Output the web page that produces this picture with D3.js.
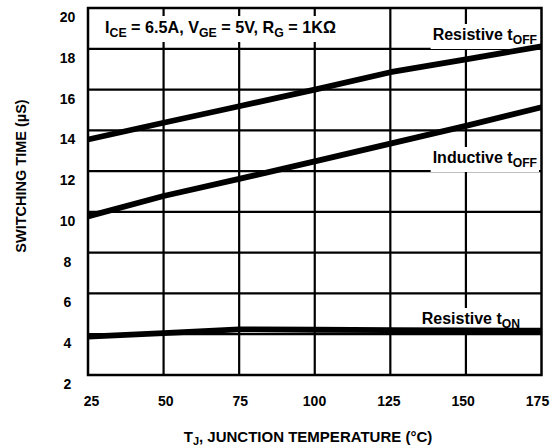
<!DOCTYPE html>
<html>
<head>
<meta charset="utf-8">
<script src="https://cdn.jsdelivr.net/npm/d3@7"></script>
<style>
  html, body { margin: 0; padding: 0; background: #fff; }
  svg text { font-family: "Liberation Sans", Arial, sans-serif; font-weight: bold; fill: #000; }
</style>
</head>
<body>
<svg id="chart" width="552" height="447"></svg>
<script>
// ---- data ----
const temperatures = [25, 50, 75, 100, 125, 150, 175];
const resistiveToff = [13.55, 14.37, 15.18, 16.0, 16.85, 17.48, 18.12];
const inductiveToff = [9.78, 10.78, 11.62, 12.48, 13.35, 14.22, 15.13];
const resistiveTon = [3.88, 4.05, 4.24, 4.22, 4.2, 4.19, 4.17];
const xTicks = [25, 50, 75, 100, 125, 150, 175];
const yTicks = [2, 4, 6, 8, 10, 12, 14, 16, 18, 20];
const xTitle = "JUNCTION TEMPERATURE (°C)";
const yTitle = "SWITCHING TIME (µS)";

const svg = d3.select("#chart");
const x = d3.scaleLinear().domain([25, 175]).range([88, 541.5]);
const xLab = d3.scaleLinear().domain([25, 175]).range([91.5, 537.5]);
const y = d3.scaleLinear().domain([2, 20]).range([375, 8]);

// grid
const grid = svg.append("g").attr("stroke", "#000").attr("stroke-width", 2.2);
grid.selectAll("line.v").data(xTicks.slice(1, -1)).join("line")
  .attr("x1", d => x(d)).attr("x2", d => x(d)).attr("y1", y(20)).attr("y2", y(2));
grid.selectAll("line.h").data(yTicks.slice(1, -1)).join("line")
  .attr("y1", d => y(d)).attr("y2", d => y(d)).attr("x1", x(25)).attr("x2", x(175));

const bgLayer = svg.append("g");
const lineLayer = svg.append("g");
const borderLayer = svg.append("g");
const textLayer = svg.append("g");

function addSubLabel(parts, xp, yp, anchor, size) {
  const t = textLayer.append("text").attr("x", xp).attr("y", yp)
    .attr("text-anchor", anchor).attr("font-size", size);
  parts.forEach(p => {
    if (p.sub) {
      t.append("tspan").attr("font-size", size * 0.76).attr("dy", 4).text(p.t);
    } else {
      t.append("tspan").attr("dy", p.after ? -4 : 0).text(p.t);
    }
  });
  return t;
}
function box(t, pad) {
  const b = t.node().getBBox();
  bgLayer.append("rect").attr("x", b.x - pad).attr("y", b.y - pad)
    .attr("width", b.width + 2 * pad).attr("height", b.height + 2 * pad).attr("fill", "#fff");
}

// annotation
const ann = addSubLabel([
  {t: "I"}, {t: "CE", sub: true}, {t: " = 6.5A, V", after: true}, {t: "GE", sub: true},
  {t: " = 5V, R", after: true}, {t: "G", sub: true}, {t: " = 1KΩ", after: true}
], 105, 33, "start", 16.2);
box(ann, 2);

const l1 = addSubLabel([{t: "Resistive t"}, {t: "OFF", sub: true}], 537, 40, "end", 16);
box(l1, 2);
const l2 = addSubLabel([{t: "Inductive t"}, {t: "OFF", sub: true}], 537, 163, "end", 16);
box(l2, 2);
const l3 = addSubLabel([{t: "Resistive t"}, {t: "ON", sub: true}], 520, 324, "end", 16);
box(l3, 2);

// curves
const line = d3.line().x((d, i) => x(temperatures[i])).y(d => y(d));
[resistiveToff, inductiveToff, resistiveTon].forEach(s => {
  lineLayer.append("path").attr("d", line(s)).attr("fill", "none")
    .attr("stroke", "#000").attr("stroke-width", 5.8).attr("stroke-linejoin", "round");
});

// border
borderLayer.append("rect").attr("x", x(25)).attr("y", y(20))
  .attr("width", x(175) - x(25)).attr("height", y(2) - y(20))
  .attr("fill", "none").attr("stroke", "#000").attr("stroke-width", 2.5);

// tick labels
textLayer.selectAll("text.yt").data(yTicks).join("text")
  .attr("x", 67.5).attr("y", d => y(d) + 14).attr("text-anchor", "middle")
  .attr("font-size", 14).text(d => d);
textLayer.selectAll("text.xt").data(xTicks).join("text")
  .attr("x", d => xLab(d)).attr("y", 406).attr("text-anchor", "middle")
  .attr("font-size", 14).text(d => d);

// axis titles
const xt = textLayer.append("text").attr("x", 308).attr("y", 442)
  .attr("text-anchor", "middle").attr("font-size", 15);
xt.append("tspan").text("T");
xt.append("tspan").attr("font-size", 11).attr("dy", 3).text("J");
xt.append("tspan").attr("dy", -3).text(", " + xTitle);

textLayer.append("text").attr("transform", "translate(26,176) rotate(-90)")
  .attr("text-anchor", "middle").attr("font-size", 14.5).text(yTitle);
</script>
</body>
</html>
